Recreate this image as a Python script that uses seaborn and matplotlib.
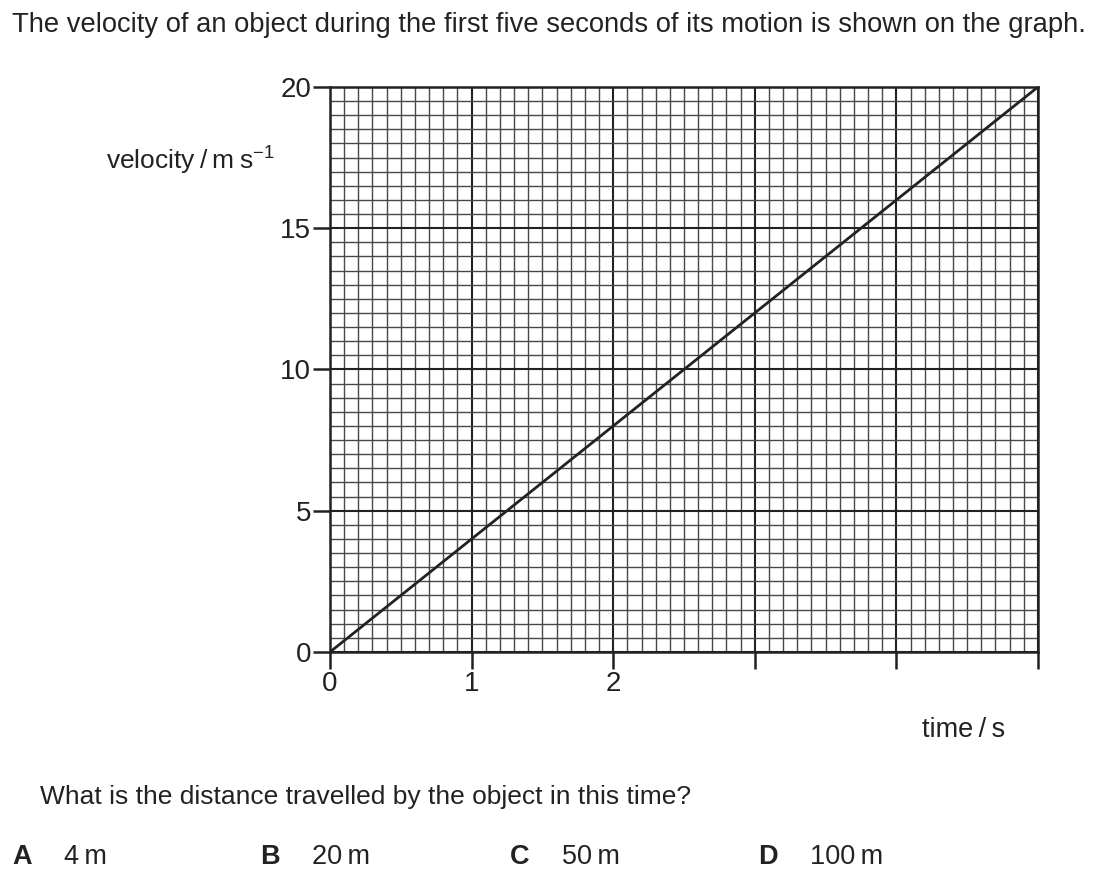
import numpy as np
import pandas as pd
import matplotlib
matplotlib.use('Agg')
import matplotlib.pyplot as plt
from matplotlib.ticker import MultipleLocator
import seaborn as sns

sns.set_theme(style='white')
plt.rcParams['font.family'] = ['Liberation Sans', 'DejaVu Sans']
plt.rcParams['mathtext.fontset'] = 'custom'
plt.rcParams['mathtext.rm'] = 'Liberation Sans'

# data
time_s = [0, 5]
velocity = [0, 20]
x_ticks = [0, 1, 2, 3, 4, 5]
x_tick_labels = ['0', '1', '2', '', '', '']
y_ticks = [0, 5, 10, 15, 20]
options = ['A', 'B', 'C', 'D']
answers = ['4\u2009m', '20\u2009m', '50\u2009m', '100\u2009m']

df = pd.DataFrame({'time': time_s, 'velocity': velocity})

fig = plt.figure(figsize=(11, 8.93), dpi=100)
ax = fig.add_axes([0.3, 0.2699, 0.6436, 0.6327])

ax.set_xlim(0, 5)
ax.set_ylim(0, 20)
ax.xaxis.set_minor_locator(MultipleLocator(0.1))
ax.yaxis.set_minor_locator(MultipleLocator(0.5))
ax.grid(which='minor', color='#484848', linewidth=1.0)
ax.grid(which='major', color='#222222', linewidth=1.5)
ax.set_axisbelow(True)

sns.lineplot(data=df, x='time', y='velocity', ax=ax, color='#222222', linewidth=2)

ax.set_xticks(x_ticks)
ax.set_xticklabels(x_tick_labels)
ax.set_yticks(y_ticks)
ax.tick_params(which='major', direction='out', length=12, width=1.8, color='#222222',
               labelsize=20, pad=1.5, labelcolor='#222222')
ax.tick_params(which='minor', length=0)
ax.tick_params(axis='x', bottom=True)
ax.tick_params(axis='y', left=True)
for side, spine in ax.spines.items():
    spine.set_visible(True)
    spine.set_color('#222222')
    spine.set_linewidth(1.8)
ax.set_xlabel('')
ax.set_ylabel('')

txt = dict(color='#222222')
fig.text(12 / 1100, 1 - 25 / 893,
         'The velocity of an object during the first five seconds of its motion is shown on the graph.',
         ha='left', va='center', fontsize=19.7, **txt)
fig.text(275 / 1100, 1 - 160 / 893, 'velocity\u2009/\u2009m\u2009s$^{\\mathregular{-1}}$',
         ha='right', va='center', fontsize=19, **txt)
fig.text(1005 / 1100, 1 - 730 / 893, 'time\u2009/\u2009s', ha='right', va='center', fontsize=19.5, **txt)
fig.text(40 / 1100, 1 - 797 / 893, 'What is the distance travelled by the object in this time?',
         ha='left', va='center', fontsize=19, **txt)

opt_x = [12, 260, 510, 758]
for lx, letter, ans in zip(opt_x, options, answers):
    fig.text(lx / 1100, 1 - 857 / 893, letter, ha='left', va='center', fontweight='bold',
             fontsize=19.5, **txt)
    fig.text((lx + 52) / 1100, 1 - 857 / 893, ans, ha='left', va='center', fontsize=19.5, **txt)

fig.savefig('out.png', dpi=100, facecolor='white')
